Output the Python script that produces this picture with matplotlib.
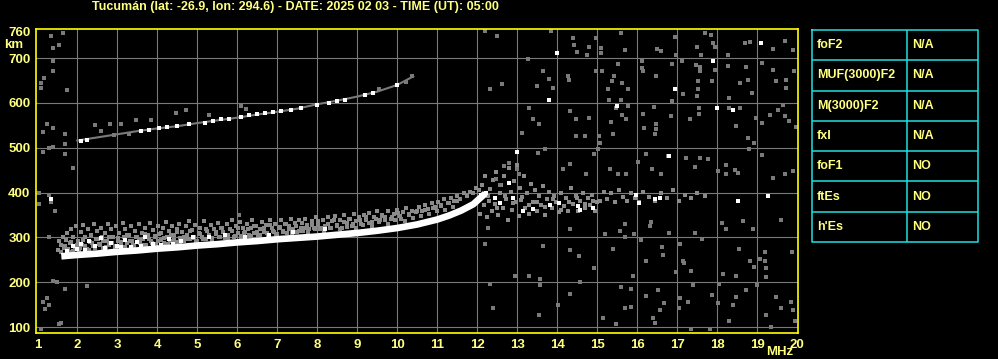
import matplotlib
matplotlib.use('Agg')
import matplotlib.pyplot as plt

title = 'Tucumán (lat: -26.9, lon: 294.6) - DATE: 2025 02 03 - TIME (UT): 05:00'

# main F trace (o-mode), white
trace_f = [1.6, 2, 2.5, 3, 3.5, 4, 4.5, 5, 5.5, 6, 6.5, 7, 7.5, 8, 8.5, 9, 9.5, 10,
           10.5, 11, 11.3, 11.6, 11.9, 12.05, 12.2]
trace_h = [258, 261, 264, 268, 271, 275, 278, 282, 285, 289, 292, 296, 299, 302, 306,
           310, 315, 321, 329, 340, 349, 360, 374, 386, 398]

# grey spread echoes above the main trace (upper part)
spread_f = [1.52, 1.55, 1.58, 1.63, 1.67, 1.71, 1.74, 1.78, 1.82, 1.85, 1.88, 1.93, 1.97,
            2.01, 2.04, 2.08, 2.12, 2.15, 2.19, 2.23, 2.26, 2.31, 2.35, 2.38, 2.42, 2.46,
            2.5, 2.53, 2.58, 2.61, 2.65, 2.69, 2.73, 2.77, 2.8, 2.84, 2.89, 2.93, 2.96,
            3.01, 3.05, 3.08, 3.13, 3.17, 3.2, 3.25, 3.28, 3.33, 3.37, 3.41, 3.44, 3.49,
            3.53, 3.56, 3.61, 3.65, 3.69, 3.72, 3.77, 3.81, 3.84, 3.89, 3.93, 3.97,
            4.01, 4.05, 4.09, 4.13, 4.17, 4.21, 4.25, 4.29, 4.33, 4.38, 4.42, 4.46, 4.5,
            4.54, 4.58, 4.62, 4.66, 4.71, 4.75, 4.79, 4.83, 4.87, 4.91, 4.95,
            5.0, 5.04, 5.08, 5.12, 5.17, 5.21, 5.25, 5.3, 5.34, 5.38, 5.43, 5.47, 5.52,
            5.56, 5.6, 5.65, 5.69, 5.74, 5.78, 5.83, 5.87, 5.92, 5.96,
            6.01, 6.06, 6.1, 6.15, 6.2, 6.24, 6.29, 6.34, 6.38, 6.43, 6.48, 6.53, 6.57,
            6.62, 6.67, 6.72, 6.76, 6.81, 6.86, 6.91, 6.95,
            7.0, 7.05, 7.1, 7.15, 7.2, 7.25, 7.3, 7.35, 7.4, 7.45, 7.5, 7.55, 7.6, 7.65,
            7.7, 7.75, 7.8, 7.86, 7.92, 7.97,
            8.03, 8.08, 8.14, 8.2, 8.26, 8.32, 8.38, 8.44, 8.5, 8.56, 8.62, 8.68, 8.74,
            8.8, 8.86, 8.92, 8.98,
            9.04, 9.1, 9.17, 9.23, 9.3, 9.36, 9.42, 9.5, 9.56, 9.62, 9.7, 9.78, 9.85, 9.92,
            10.0, 10.08, 10.15, 10.23, 10.3, 10.38, 10.46, 10.54, 10.62, 10.7, 10.78,
            10.86, 10.94, 11.02, 11.1, 11.18, 11.26, 11.34, 11.42, 11.5, 11.58, 11.66,
            11.74, 11.82, 11.9, 11.98, 12.05]
spread_h = [272, 291, 283, 300, 276, 295, 310, 268, 287, 318, 302, 279, 325,
            293, 270, 312, 284, 328, 300, 275, 318, 290, 306, 280, 331, 296,
            315, 285, 322, 300, 276, 310, 292, 330, 283, 318, 300, 279, 325,
            292, 310, 284, 333, 300, 318, 287, 306, 325, 292, 281, 315, 300,
            330, 288, 310, 296, 322, 284, 305, 333, 292, 316, 300, 285,
            326, 308, 294, 320, 288, 335, 302, 315, 292, 325, 306, 289, 318,
            330, 298, 312, 293, 325, 305, 336, 296, 316, 302, 328,
            292, 310, 322, 300, 336, 296, 315, 305, 328, 298, 318, 308, 332,
            300, 322, 312, 298, 330, 305, 318, 338, 302, 325,
            310, 335, 304, 320, 312, 330, 306, 322, 338, 310, 326, 304, 318,
            335, 312, 328, 306, 340, 320, 312, 330,
            308, 322, 340, 315, 330, 310, 325, 342, 318, 332, 312, 338, 322, 315,
            342, 328, 318, 336, 322, 345,
            328, 318, 340, 325, 345, 322, 336, 348, 328, 340, 322, 350, 333,
            342, 326, 352, 336,
            345, 330, 350, 338, 355, 335, 346, 358, 340, 350, 345, 358, 342, 352,
            362, 348, 356, 365, 352, 360, 356, 368, 360, 372, 364,
            376, 368, 378, 372, 385, 376, 388, 382, 392, 386, 398,
            392, 402, 398, 410, 405]

# grey spread echoes close to the main trace
near_f = [1.6, 1.69, 1.76, 1.84, 1.9, 1.98, 2.06, 2.14, 2.2, 2.28, 2.36, 2.43, 2.51,
          2.57, 2.64, 2.72, 2.79, 2.86, 2.94, 3.02, 3.1, 3.18, 3.24, 3.31, 3.39, 3.47,
          3.55, 3.63, 3.7, 3.78, 3.86, 3.94, 4.02, 4.1, 4.18, 4.26, 4.34, 4.42, 4.5,
          4.58, 4.66, 4.74, 4.82, 4.9, 4.98, 5.06, 5.14, 5.22, 5.3, 5.38, 5.46, 5.54,
          5.62, 5.7, 5.78, 5.86, 5.94, 6.02, 6.1, 6.18, 6.26, 6.34, 6.42, 6.5, 6.58,
          6.66, 6.74, 6.82, 6.9, 6.98, 7.06, 7.14, 7.22, 7.3, 7.38, 7.46, 7.54, 7.62,
          7.7, 7.78, 7.86, 7.94, 8.02, 8.1, 8.18, 8.26, 8.34, 8.42, 8.5, 8.58, 8.66,
          8.74, 8.82, 8.9, 8.98, 9.06, 9.14, 9.22, 9.3, 9.38, 9.46, 9.54, 9.62, 9.7,
          9.78, 9.86, 9.94, 10.02, 10.1, 10.2, 10.3, 10.4, 10.5, 10.6, 10.7, 10.8,
          10.9, 11.0, 11.1, 11.2, 11.3, 11.4, 11.5]
near_h = [268, 281, 274, 290, 270, 284, 277, 294, 281, 271, 288, 276, 297,
          283, 292, 278, 302, 287, 281, 298, 289, 279, 305, 292, 284, 300,
          294, 283, 308, 296, 288, 303, 292, 310, 298, 286, 306, 295, 312,
          290, 302, 296, 315, 299, 292, 308, 297, 318, 302, 294, 312, 300,
          320, 306, 298, 314, 304, 322, 300, 310, 318, 304, 326, 312, 305,
          320, 310, 328, 315, 308, 324, 312, 330, 318, 310, 326, 314, 333,
          320, 312, 328, 318, 336, 322, 314, 330, 320, 338, 326, 318, 334,
          324, 342, 330, 322, 338, 328, 345, 333, 326, 342, 334, 348, 338,
          331, 346, 340, 354, 342, 336, 350, 344, 358, 348, 362, 352,
          366, 358, 370, 362, 376, 368, 382]

# brighter pixels in the lower band
band_wf = [1.75, 1.9, 2.0, 2.1, 2.3, 2.45, 2.6, 2.85, 3.0, 3.2, 3.35, 3.5, 3.7, 3.9,
           4.1, 4.3, 4.6, 4.9, 5.3, 5.7, 2.2, 2.7, 3.1, 3.6, 4.4, 6.2, 6.8, 7.4, 8.2]
band_wh = [270, 282, 275, 285, 292, 280, 298, 288, 282, 295, 279, 290, 300, 286,
           284, 296, 292, 302, 300, 305, 272, 276, 278, 281, 285, 300, 306, 312, 318]

# spread cloud near 12-17 MHz (grey) and its brighter pixels (white)
cloud_f = [12.08, 12.12, 12.16, 12.2, 12.24, 12.28, 12.32, 12.36, 12.4, 12.44, 12.48,
           12.52, 12.56, 12.6, 12.64, 12.68, 12.72, 12.76, 12.8, 12.84, 12.88, 12.92,
           12.96, 13.0, 13.04, 13.08, 13.12, 13.16, 13.2, 13.25, 13.3, 13.35, 13.4,
           13.45, 13.5, 13.55, 13.6, 13.65, 13.7, 13.75, 13.8, 13.86, 13.92, 13.98,
           14.04, 14.1, 14.16, 14.22, 14.28, 14.34, 14.4, 14.46, 14.52, 14.58, 14.64,
           14.7, 14.76, 14.82, 14.88, 14.94, 15.0, 15.08, 15.16, 15.25, 15.35, 15.45,
           15.55, 15.65, 15.75, 15.85, 15.95, 16.05, 16.15, 16.3, 16.45, 16.6, 16.75,
           16.9, 17.05, 17.2, 17.35, 17.5, 17.7, 12.3, 12.5, 12.7, 12.9, 13.1, 13.3,
           13.5, 13.7, 13.9, 14.1, 14.3, 14.5, 14.7, 14.9]
cloud_h = [352, 418, 372, 436, 345, 392, 408, 360, 428, 375, 446,
           350, 400, 418, 366, 438, 385, 340, 455, 402, 362, 425,
           378, 462, 348, 410, 390, 436, 365, 398, 352, 420, 380,
           405, 358, 392, 372, 415, 350, 385, 402, 365, 392, 378,
           356, 400, 370, 388, 358, 410, 375, 392, 360, 382, 398,
           366, 388, 372, 395, 360, 380, 382, 402, 386, 398, 380,
           405, 390, 382, 400, 388, 378, 402, 390, 382, 398, 388,
           405, 382, 395, 388, 400, 392, 382, 366, 392, 376, 384, 372,
           380, 368, 385, 362, 378, 388, 374, 382]
cloud_wf = [12.1, 12.23, 12.44, 12.56, 12.89, 13.14, 13.39, 13.81, 14.04, 14.52, 14.56,
            14.89, 15.98, 16.04, 16.44, 16.56, 19.27, 18.52]
cloud_wh = [395, 398, 388, 377, 388, 358, 363, 373, 377, 371, 362, 366, 395, 377, 386,
            388, 393, 382]

# second hop trace
hop_f = [2.0, 2.5, 3, 3.5, 4, 4.5, 5, 5.5, 6, 6.5, 7, 7.5, 8, 8.5, 9, 9.5, 10, 10.4]
hop_h = [516, 523, 530, 537, 543, 548, 555, 561, 567, 574, 580, 587, 597, 605, 614,
         625, 640, 659]
hop_wf = [2.1, 2.25, 3.6, 3.8, 4.05, 4.25, 4.5, 4.8, 5.2, 5.4, 5.6, 5.8, 6.1, 6.3, 6.5,
          6.7, 6.9, 7.1, 7.35, 7.6, 8.0, 8.3, 8.5, 8.7, 9.2, 9.4, 10.0]
hop_wh = [516, 517, 538, 540, 543, 546, 549, 552, 556, 560, 563, 565, 568, 572, 575,
          577, 580, 582, 585, 588, 596, 600, 604, 607, 617, 622, 640]

# scattered grey noise pixels
noise_f = [12.2, 12.5, 13.85, 14.4, 14.42, 14.5, 14.74, 14.8, 14.96, 15.1, 15.1, 15.6, 15.7,
           16.5, 16.6, 16.95, 16.98, 17.5, 17.6, 17.7, 17.85, 17.9, 17.94, 18.27, 18.7,
           18.83, 19.4, 19.7, 19.9,
           13.27, 13.64, 13.8, 13.9, 13.5, 12.33, 12.63, 14.27, 14.3, 14.98, 15.13, 15.27,
           15.38, 15.41, 15.52, 15.62, 15.77, 15.3, 15.6, 16.13, 16.13, 16.14, 16.48, 16.88,
           16.88, 17.12, 17.14, 17.48, 17.56, 17.58, 17.52, 17.53, 17.5, 17.88, 17.94,
           18.27, 18.3, 18.58, 18.73, 18.77, 18.88, 19.13, 19.39, 19.48, 19.73, 19.92, 19.73,
           13.29, 13.39, 13.54, 13.13, 14.33, 14.48, 14.79, 14.48, 14.69, 15.04, 15.08,
           15.34, 15.39, 15.48, 15.62, 15.73, 15.77, 16.14, 16.17, 16.41, 16.48, 16.48,
           16.44, 16.84, 17.33, 17.54, 17.54, 18.3, 18.58, 18.48, 18.77, 18.93, 18.98,
           19.13, 19.33, 19.52, 19.69, 19.79, 19.98, 19.64,
           12.68, 12.8, 12.99, 13.04, 12.56, 12.46, 13.52, 13.69, 14.14, 14.33, 14.73,
           14.93, 15.02, 15.31, 15.52, 15.73, 16.02, 16.23, 16.38, 16.6, 16.77, 17.23,
           17.44, 17.58, 17.77, 18.02, 18.21, 18.23, 18.44, 18.52, 18.79, 19.13, 19.39,
           19.69, 19.9,
           12.27, 14.31, 15.19, 15.39, 15.56, 15.69, 15.69, 15.91, 16.1, 16.35, 16.33,
           16.79, 17.06, 17.14, 17.16, 17.35, 17.44, 17.63, 18.13, 18.21, 18.54, 18.64,
           18.89, 19.59, 19.88, 19.19, 19.19, 19.23, 13.64, 14.33, 14.54, 14.93, 12.19,
           12.94, 13.29, 13.58, 13.58, 14.56, 15.89, 16.23, 16.63, 16.64, 16.96, 18.14,
           18.48, 18.83, 18.93, 19.06, 19.21,
           12.33, 12.39, 14.02, 14.33, 13.54, 15.14, 15.6, 15.85, 15.85, 15.69, 16.23,
           16.39, 16.58, 16.52, 16.68, 17.04, 17.08, 17.27, 17.39, 17.88, 18.02, 18.04,
           18.39, 18.29, 18.48, 18.73, 18.99, 19.23, 19.48, 19.6, 19.85, 19.94, 19.89,
           15.48, 16.44, 17.81, 19.35, 17.35,
           1.34, 1.63, 1.38, 1.53, 1.38, 1.38, 1.17, 1.09, 1.09, 1.73, 1.23, 1.38, 1.13,
           1.68, 1.69, 1.38, 1.28, 1.13, 1.7, 1.88,
           2.81, 3.09, 3.46, 3.84, 4.46, 4.73, 5.29, 6.09, 6.23, 10.38, 10.23, 9.55, 2.45,
           2.59, 2.92, 3.3,
           1.5, 1.4, 1.7, 1.3, 1.6, 1.55, 1.25, 2.25, 1.1, 1.05, 1.05, 1.2, 1.15,
           1.3, 1.35, 1.45, 1.3, 6.05]
noise_h = [760, 748, 760, 744, 729, 714, 707, 725, 744, 722, 711, 755, 718,
           720, 716, 746, 707, 725, 707, 755, 752, 733, 724, 707, 733,
           735, 720, 739, 718,
           698, 670, 654, 633, 637, 630, 642, 659, 652, 670, 671, 630,
           649, 659, 687, 645, 630, 607, 607, 693, 678, 671, 659, 687,
           605, 693, 620, 685, 680, 671, 648, 630, 615, 648, 674,
           682, 611, 645, 680, 652, 622, 689, 674, 648, 652, 671, 633,
           589, 563, 553, 533, 581, 563, 567, 526, 526, 526, 511,
           558, 531, 589, 574, 563, 594, 576, 544, 591, 552, 541,
           531, 570, 563, 589, 576, 589, 589, 548, 522, 511, 567,
           556, 574, 585, 570, 559, 546, 596,
           460, 467, 452, 441, 418, 430, 489, 497, 452, 464, 441,
           485, 497, 452, 441, 441, 469, 487, 452, 441, 482, 476,
           456, 476, 475, 448, 441, 462, 451, 444, 497, 483, 433,
           441, 448,
           322, 319, 307, 275, 314, 329, 300, 307, 295, 334, 325,
           311, 285, 248, 243, 226, 311, 297, 333, 318, 274, 336,
           318, 340, 268, 268, 248, 212, 281, 273, 259, 231, 285,
           215, 214, 208, 195, 201, 215, 248, 278, 260, 223, 219,
           215, 248, 234, 252, 232,
           197, 142, 149, 175, 127, 120, 190, 186, 146, 142, 170,
           120, 138, 182, 153, 142, 166, 157, 193, 171, 153, 197,
           149, 113, 168, 182, 193, 127, 168, 142, 157, 113, 138,
           106, 109, 95, 100, 95,
           748, 755, 723, 729, 694, 670, 656, 644, 633, 629, 554, 545, 534,
           530, 508, 502, 499, 490, 485, 454,
           554, 554, 562, 562, 577, 584, 573, 592, 586, 659, 646, 631, 550,
           537, 528, 530,
           200, 202, 185, 150, 110, 107, 165, 192, 95, 375, 400, 140, 155,
           395, 380, 360, 300, 350]

# white noise pixels
wnoise_f = [14.0, 13.8, 15.5, 16.95, 17.9, 18.4, 19.1, 18.0, 16.8, 13.0, 12.8, 1.35]
wnoise_h = [712, 607, 594, 630, 693, 585, 733, 589, 482, 491, 422, 385]

freq_ticks = list(range(1, 21))
height_ticks = [100, 200, 300, 400, 500, 600, 700, 760]

params = ['foF2', 'MUF(3000)F2', 'M(3000)F2', 'fxI', 'foF1', 'ftEs', "h'Es"]
values = ['N/A', 'N/A', 'N/A', 'N/A', 'NO', 'NO', 'NO']

yellow = '#ffff80'
grey = '#7a7a7a'
plt.rcParams['font.family'] = ['Liberation Sans', 'DejaVu Sans']
plt.rcParams['font.weight'] = 'bold'

fig = plt.figure(figsize=(9.98, 3.59), dpi=100, facecolor='black')
ax = fig.add_axes([36 / 998, 1 - 333 / 359, 762 / 998, (333 - 29.3) / 359])
ax.set_facecolor('black')
ax.set_xlim(0.967, 20.02)
ax.set_ylim(87, 764)

for f in freq_ticks[1:-1]:
    ax.axvline(f, color=grey, lw=0.8, zorder=1)
for h in height_ticks[:-1]:
    ax.axhline(h, color=grey, lw=0.8, zorder=1)

dots = dict(ls='none', marker='s', mew=0, antialiased=False)
ax.plot(spread_f, spread_h, color='#8a8a8a', ms=2.5, zorder=2, **dots)
ax.plot(near_f, near_h, color='#8a8a8a', ms=2.5, zorder=2, **dots)
ax.plot(cloud_f, cloud_h, color='#8a8a8a', ms=2.5, zorder=2, **dots)
ax.plot(noise_f, noise_h, color=grey, ms=2.2, zorder=2, **dots)
ax.plot(wnoise_f, wnoise_h, color='white', ms=2.2, zorder=3, **dots)
ax.plot(cloud_wf, cloud_wh, color='white', ms=2.5, zorder=3, **dots)
ax.plot(band_wf, band_wh, color='white', ms=2.5, zorder=3, **dots)

ax.plot(hop_f, hop_h, color=grey, lw=1.5, zorder=2)
ax.plot(hop_wf, hop_wh, color='white', ms=2.3, zorder=3, **dots)
ax.plot(trace_f, trace_h, color='white', lw=4.8, solid_capstyle='butt', zorder=3)

for s in ax.spines.values():
    s.set_color('#ffff00')
    s.set_linewidth(1.2)
ax.set_xticks(freq_ticks)
ax.set_yticks(height_ticks)
ax.tick_params(length=0, colors=yellow, labelsize=9.5, pad=4)
for lab in ax.get_xticklabels() + ax.get_yticklabels():
    lab.set_fontweight('bold')

fig.text(14 / 998, 1 - 45 / 359, 'km', color=yellow, fontsize=9.5, fontweight='bold',
         ha='center', va='center')
fig.text(780 / 998, 1 - 352 / 359, 'MHz', color=yellow, fontsize=9.5, fontweight='bold',
         ha='center', va='center')
fig.text(295 / 998, 1 - 7 / 359, title, color=yellow, fontsize=9, fontweight='bold',
         ha='center', va='center')

# parameter table
tx = fig.add_axes([812 / 998, 1 - 242 / 359, (977.5 - 812) / 998, (242 - 30) / 359])
tx.set_xlim(812, 977.5)
tx.set_ylim(242, 30)
tx.axis('off')
cyan = '#20e0e0'
n = len(params)
rh = (242 - 30) / n
tx.plot([812, 977.5, 977.5, 812, 812], [30, 30, 242, 242, 30], color=cyan, lw=1.1, clip_on=False)
tx.plot([907, 907], [30, 242], color=cyan, lw=1.1)
for i in range(1, n):
    tx.plot([812, 977.5], [30 + i * rh] * 2, color=cyan, lw=1.1)
for i, (p, v) in enumerate(zip(params, values)):
    y = 30 + (i + 0.5) * rh
    tx.text(817, y, p, color=yellow, fontsize=9, fontweight='bold', va='center')
    tx.text(912, y, v, color=yellow, fontsize=9, fontweight='bold', va='center')

fig.savefig('out.png', dpi=100, facecolor='black')
